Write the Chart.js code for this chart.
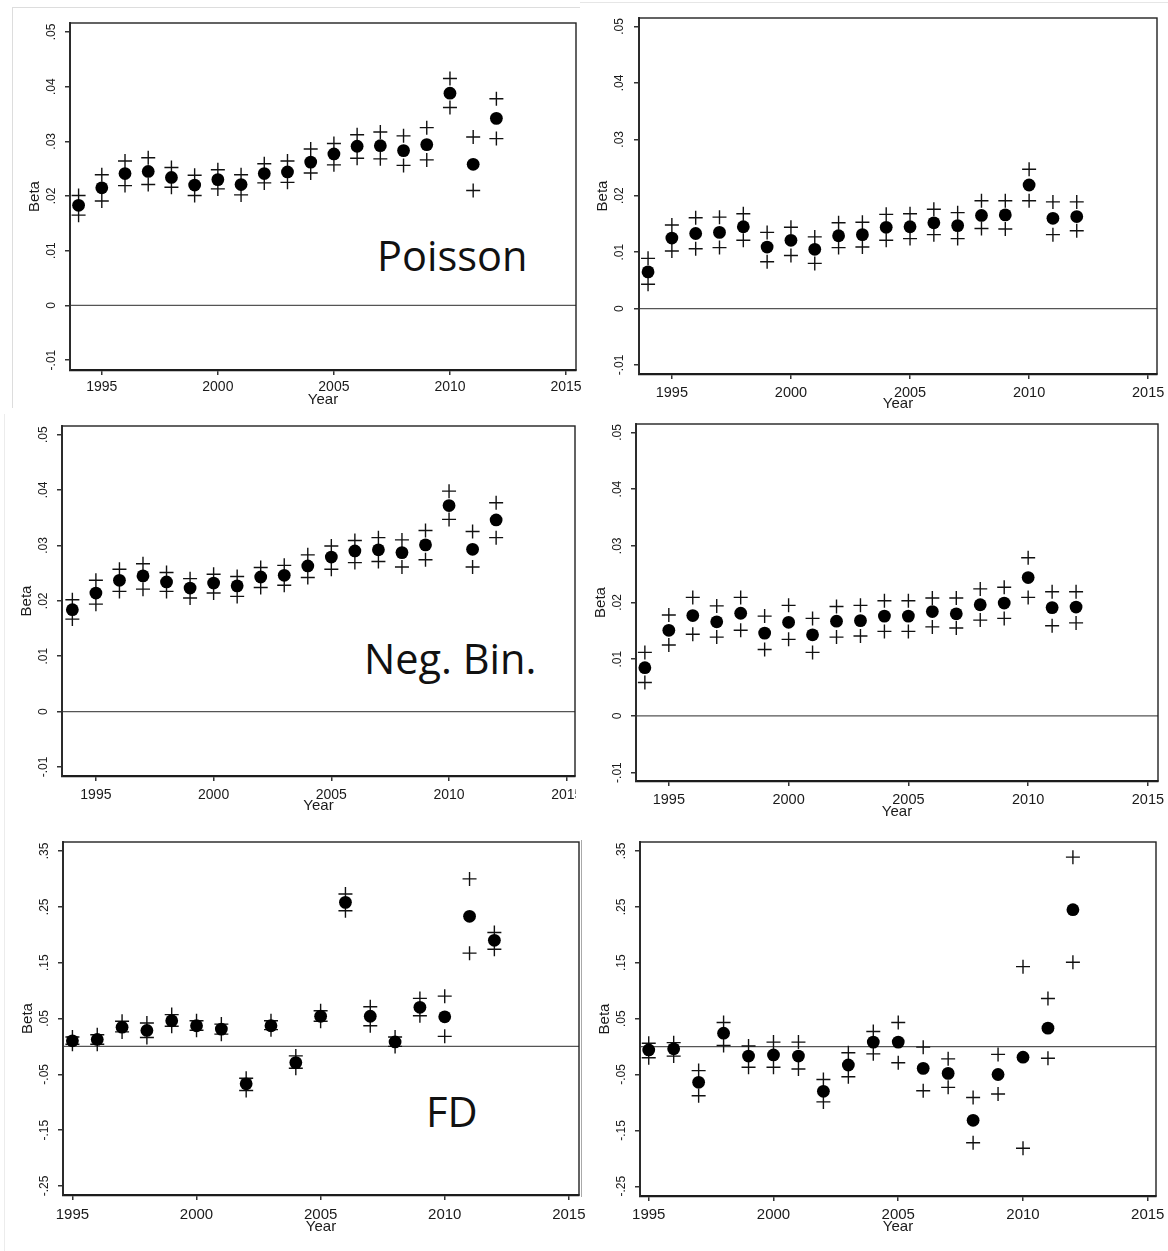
<!DOCTYPE html>
<html>
<head>
<meta charset="utf-8">
<script src="https://cdn.jsdelivr.net/npm/chart.js@4.4.1/dist/chart.umd.min.js"></script>
<style>
body{margin:0;background:#fff;width:1168px;height:1251px;position:relative;overflow:hidden}
canvas{position:absolute}
.lbl{position:absolute;font-family:"Open Sans";font-size:41.5px;line-height:1;color:#111;white-space:nowrap}
.frame{position:absolute}
</style>
</head>
<body>

<div class="lbl" style="left:377px;top:235px">Poisson</div>
<div class="lbl" style="left:364px;top:638px">Neg. Bin.</div>
<div class="lbl" style="left:426px;top:1091px">FD</div>

<script>
// years
const years = [1994,1995,1996,1997,1998,1999,2000,2001,2002,2003,2004,2005,2006,2007,2008,2009,2010,2011,2012];
const yearsFD = [1995,1996,1997,1998,1999,2000,2001,2002,2003,2004,2005,2006,2007,2008,2009,2010,2011,2012];

// tick labels
const xTicks = [1995, 2000, 2005, 2010, 2015];
const yTicksTop = [-0.01, 0, 0.01, 0.02, 0.03, 0.04, 0.05];
const yTicksFD = [-0.25, -0.15, -0.05, 0.05, 0.15, 0.25, 0.35];

// Poisson (top left)
const poisEst = [0.0183,0.0215,0.0241,0.0245,0.0234,0.0220,0.0230,0.0221,0.0241,0.0244,0.0262,0.0277,0.0291,0.0292,0.0283,0.0294,0.0388,0.0258,0.0342];
const poisHi  = [0.0201,0.0239,0.0264,0.0270,0.0252,0.0238,0.0248,0.0239,0.0259,0.0264,0.0286,0.0296,0.0312,0.0317,0.0310,0.0325,0.0415,0.0308,0.0378];
const poisLo  = [0.0165,0.0191,0.0219,0.0221,0.0216,0.0201,0.0213,0.0202,0.0224,0.0225,0.0242,0.0257,0.0269,0.0268,0.0256,0.0266,0.0362,0.0210,0.0305];

// top right
const pois2Est = [0.0065,0.0125,0.0133,0.0135,0.0145,0.0109,0.0121,0.0105,0.0129,0.0131,0.0144,0.0145,0.0152,0.0147,0.0165,0.0166,0.0219,0.0160,0.0163];
const pois2Hi  = [0.0089,0.0148,0.0161,0.0162,0.0168,0.0135,0.0144,0.0127,0.0152,0.0153,0.0167,0.0168,0.0176,0.0170,0.0191,0.0191,0.0247,0.0189,0.0189];
const pois2Lo  = [0.0043,0.0102,0.0106,0.0108,0.0121,0.0083,0.0094,0.0080,0.0108,0.0109,0.0121,0.0124,0.0131,0.0124,0.0142,0.0141,0.0191,0.0131,0.0138];

// Neg. Bin. (middle left)
const nbEst = [0.0184,0.0214,0.0237,0.0245,0.0234,0.0223,0.0232,0.0227,0.0243,0.0246,0.0263,0.0279,0.0290,0.0292,0.0287,0.0301,0.0372,0.0293,0.0346];
const nbHi  = [0.0202,0.0237,0.0257,0.0267,0.0251,0.0240,0.0248,0.0244,0.0260,0.0264,0.0283,0.0299,0.0309,0.0314,0.0310,0.0327,0.0398,0.0325,0.0377];
const nbLo  = [0.0167,0.0194,0.0217,0.0221,0.0217,0.0205,0.0214,0.0208,0.0224,0.0228,0.0242,0.0257,0.0269,0.0271,0.0261,0.0274,0.0347,0.0261,0.0314];

// middle right
const nb2Est = [0.0085,0.0151,0.0177,0.0166,0.0181,0.0146,0.0165,0.0143,0.0167,0.0168,0.0176,0.0176,0.0184,0.0180,0.0196,0.0199,0.0244,0.0191,0.0192];
const nb2Hi  = [0.0112,0.0178,0.0209,0.0194,0.0209,0.0176,0.0195,0.0172,0.0193,0.0195,0.0203,0.0203,0.0208,0.0208,0.0224,0.0227,0.0279,0.0219,0.0219];
const nb2Lo  = [0.0059,0.0125,0.0144,0.0139,0.0151,0.0117,0.0135,0.0112,0.0139,0.0141,0.0149,0.0149,0.0157,0.0155,0.0169,0.0172,0.0209,0.0159,0.0164];

// FD (bottom left)
const fdEst = [0.010,0.0125,0.0345,0.0286,0.046,0.037,0.031,-0.067,0.037,-0.029,0.054,0.258,0.054,0.008,0.070,0.053,0.233,0.190];
const fdHi  = [0.017,0.021,0.045,0.042,0.057,0.046,0.040,-0.057,0.046,-0.017,0.064,0.273,0.071,0.017,0.086,0.090,0.300,0.204];
const fdLo  = [0.004,0.004,0.026,0.016,0.036,0.029,0.022,-0.079,0.030,-0.039,0.045,0.243,0.037,0.000,0.055,0.018,0.167,0.174];

// bottom right
const fd2Est = [-0.006,-0.004,-0.064,0.024,-0.017,-0.015,-0.017,-0.080,-0.033,0.008,0.008,-0.039,-0.048,-0.132,-0.050,-0.019,0.033,0.245];
const fd2Hi  = [0.006,0.007,-0.043,0.043,0.001,0.008,0.008,-0.059,-0.011,0.027,0.043,-0.001,-0.022,-0.091,-0.014,0.143,0.086,0.339];
const fd2Lo  = [-0.020,-0.017,-0.088,0.002,-0.037,-0.037,-0.040,-0.099,-0.054,-0.013,-0.029,-0.079,-0.073,-0.172,-0.085,-0.182,-0.021,0.151];

Chart.defaults.font.family = '"Liberation Sans", Arial, sans-serif';
Chart.defaults.color = '#1a1a1a';

const fmt = v => {
    if (Math.abs(v) < 1e-9) return '0';
    return (+v.toFixed(2)).toString().replace(/^(-?)0\./, '$1.');
};

const meas = document.createElement('canvas').getContext('2d');
function widest(list, size) {
    meas.font = size + 'px ' + Chart.defaults.font.family;
    return Math.max(...list.map(s => meas.measureText(s).width));
}

const boxPlugin = {
    id: 'box',
    afterDatasetsDraw(c) {
        const a = c.chartArea, ctx = c.ctx;
        ctx.save();
        ctx.strokeStyle = '#222';
        ctx.lineWidth = 1.4;
        ctx.strokeRect(a.left, a.top, a.right - a.left, a.bottom - a.top);
        ctx.restore();
    }
};

// no extra room for overhanging tick labels, the plot box is fixed
function noPad(s) {
    s.paddingLeft = 0; s.paddingRight = 0; s.paddingTop = 0; s.paddingBottom = 0;
}

function make_panel(p) {
    const cl = p.L - 60, ct = p.T - 10, cr = p.R + (p.padR || 14);
    const H = p.yearY - p.B + 12;
    const cnv = document.createElement('canvas');
    cnv.width = cr - cl;
    cnv.height = p.B - ct + H;
    cnv.style.left = cl + 'px';
    cnv.style.top = ct + 'px';
    document.body.appendChild(cnv);

    const yLabels = p.yTicks.map(fmt);
    const wy = widest(yLabels, 12);

    new Chart(cnv, {
        type: 'scatter',
        data: {
            datasets: [
                {data: p.x.map((v, i) => ({x: v, y: p.est[i]})), pointStyle: 'circle', pointRadius: 6.4,
                 backgroundColor: '#000', borderWidth: 0, order: 0},
                {data: p.x.map((v, i) => ({x: v, y: p.hi[i]})), pointStyle: 'cross', pointRadius: 7,
                 borderColor: '#111', borderWidth: 1.4, order: 1},
                {data: p.x.map((v, i) => ({x: v, y: p.lo[i]})), pointStyle: 'cross', pointRadius: 7,
                 borderColor: '#111', borderWidth: 1.4, order: 1},
                {data: [{x: p.xMin, y: 0}, {x: p.xMax, y: 0}], showLine: true, pointRadius: 0,
                 borderColor: '#555', borderWidth: 1.3, order: 2}
            ]
        },
        options: {
            responsive: false,
            animation: false,
            devicePixelRatio: 1,
            layout: {autoPadding: false, padding: {left: 0, top: 10, right: cr - p.R, bottom: 0}},
            plugins: {legend: {display: false}, tooltip: {enabled: false}},
            scales: {
                x: {
                    type: 'linear', position: 'bottom', min: p.xMin, max: p.xMax,
                    afterBuildTicks: s => { s.ticks = xTicks.map(v => ({value: v})); },
                    afterFit: s => { s.height = H; noPad(s); },
                    ticks: {font: {size: p.xFont}, maxRotation: 0, autoSkip: false,
                            padding: p.xLblY - p.B - 5 - 0.6 * p.xFont, callback: v => String(v)},
                    grid: {drawOnChartArea: false, tickLength: 5, color: '#333', lineWidth: 1.5},
                    border: {color: '#111', width: 2.2},
                    title: {display: true, text: 'Year', font: {size: 15},
                            padding: {top: 0, bottom: p.B + H - p.yearY - 9}}
                },
                y: {
                    type: 'linear', min: p.yMin, max: p.yMax,
                    afterBuildTicks: s => { s.ticks = p.yTicks.map(v => ({value: v})); },
                    afterFit: s => { s.width = 60; noPad(s); },
                    ticks: {font: {size: 12}, minRotation: 90, maxRotation: 90, crossAlign: 'center', autoSkip: false,
                            padding: (p.L - p.labelX) - 5 - wy / 2, callback: fmt},
                    grid: {drawOnChartArea: false, tickLength: 5, color: '#333', lineWidth: 1.5},
                    border: {color: '#444', width: 2},
                    title: {display: true, text: 'Beta', font: {size: 15},
                            padding: {top: p.betaX - cl - 9, bottom: 0}}
                }
            }
        },
        plugins: [boxPlugin]
    });
}

make_panel({L: 70, T: 23, R: 576, B: 370, xMin: 1993.63, xMax: 2015.43, yMin: -0.01182, yMax: 0.05164,
    yTicks: yTicksTop, x: years, est: poisEst, hi: poisHi, lo: poisLo,
    labelX: 51.5, betaX: 35, xLblY: 387, yearY: 400, xFont: 14});
make_panel({L: 639, T: 18, R: 1157, B: 374, xMin: 1993.62, xMax: 2015.37, yMin: -0.0116, yMax: 0.0515,
    yTicks: yTicksTop, x: years, est: pois2Est, hi: pois2Hi, lo: pois2Lo,
    labelX: 620, betaX: 603, xLblY: 393, yearY: 404, xFont: 14.5});
make_panel({L: 62, T: 426, R: 575, B: 776, xMin: 1993.56, xMax: 2015.35, yMin: -0.01163, yMax: 0.05156,
    yTicks: yTicksTop, x: years, est: nbEst, hi: nbHi, lo: nbLo,
    labelX: 43.5, betaX: 26.5, xLblY: 795, yearY: 806, xFont: 14, padR: 1});
make_panel({L: 636, T: 424, R: 1158, B: 781, xMin: 1993.63, xMax: 2015.42, yMin: -0.01148, yMax: 0.05148,
    yTicks: yTicksTop, x: years, est: nb2Est, hi: nb2Hi, lo: nb2Lo,
    labelX: 618, betaX: 601, xLblY: 800, yearY: 812, xFont: 14.5});
make_panel({L: 63, T: 842, R: 579, B: 1195, xMin: 1994.62, xMax: 2015.41, yMin: -0.2661, yMax: 0.3661,
    yTicks: yTicksFD, x: yearsFD, est: fdEst, hi: fdHi, lo: fdLo,
    labelX: 44.5, betaX: 27.5, xLblY: 1215, yearY: 1227, xFont: 15});
make_panel({L: 640, T: 842, R: 1156, B: 1196, xMin: 1994.65, xMax: 2015.33, yMin: -0.2674, yMax: 0.3661,
    yTicks: yTicksFD, x: yearsFD, est: fd2Est, hi: fd2Hi, lo: fd2Lo,
    labelX: 621.5, betaX: 604.5, xLblY: 1215, yearY: 1227, xFont: 15});

// faint frames of the pasted panels
[
    [12, 7, 568, 1, '#ddd'],
    [12, 7, 1, 401, '#ddd'],
    [580, 2, 588, 1, '#e6e6e6'],
    [4, 414, 1, 837, '#ececec'],
    [581, 840, 1, 357, '#aaa'],
    [580, 409, 588, 7, '#fff']
].forEach(f => {
    const d = document.createElement('div');
    d.className = 'frame';
    d.style.cssText = `left:${f[0]}px;top:${f[1]}px;width:${f[2]}px;height:${f[3]}px;background:${f[4]};z-index:5`;
    document.body.appendChild(d);
});
</script>
</body>
</html>
